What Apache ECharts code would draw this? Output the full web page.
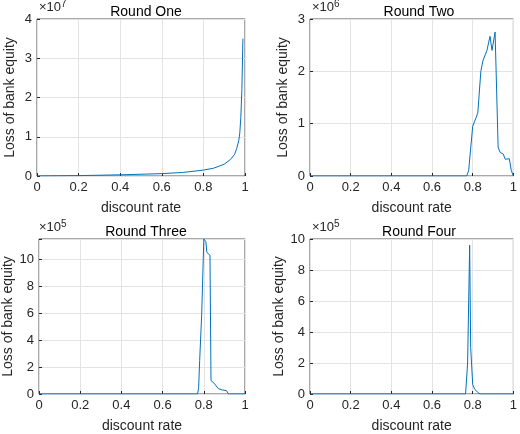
<!DOCTYPE html>
<html>
<head>
<meta charset="utf-8">
<script src="https://cdn.jsdelivr.net/npm/echarts@6/dist/echarts.min.js"></script>
<style>
  html, body { margin: 0; padding: 0; background: #fff; }
  #main { width: 520px; height: 434px; }
</style>
</head>
<body>
<div id="main"></div>
<script>
// values, y in units of the axis exponent
const titles = ['Round One', 'Round Two', 'Round Three', 'Round Four'];
const exponents = ['7', '6', '5', '5'];
const yMax = [4, 3, 11.5, 10];
const yStep = [1, 1, 2, 2];

const x1 = [0, 0.2, 0.4, 0.6, 0.7, 0.8, 0.85, 0.9, 0.93, 0.95, 0.96, 0.97, 0.975, 0.98, 0.985, 0.99];
const y1 = [0, 0.01, 0.03, 0.06, 0.09, 0.15, 0.2, 0.3, 0.42, 0.55, 0.7, 0.9, 1.1, 1.5, 2.2, 3.5];

const x2 = [0, 0.77, 0.78, 0.8, 0.81, 0.825, 0.84, 0.85, 0.87, 0.885, 0.895, 0.91, 0.925, 0.935, 0.95, 0.96, 0.98, 0.985, 0.99, 1];
const y2 = [0, 0, 0.1, 0.95, 1.05, 1.2, 2.0, 2.2, 2.4, 2.67, 2.4, 2.75, 0.55, 0.45, 0.42, 0.32, 0.33, 0.33, 0.1, 0];

const x3 = [0, 0.77, 0.775, 0.78, 0.79, 0.8, 0.81, 0.815, 0.83, 0.835, 0.85, 0.87, 0.89, 0.91, 0.92, 1];
const y3 = [0, 0, 0.5, 2.5, 6, 11.5, 11.3, 10.5, 10.3, 1.0, 0.8, 0.4, 0.3, 0.25, 0, 0];

const x4 = [0, 0.765, 0.775, 0.785, 0.79, 0.8, 0.81, 0.83, 0.84, 1];
const y4 = [0, 0, 2, 9.6, 3, 0.6, 0.3, 0.05, 0, 0];

const xs = [x1, x2, x3, x4];
const ys = [y1, y2, y3, y4];

const font = 'Liberation Sans, Arial, sans-serif';
const boxes = [
    { left: 37, top: 19 },
    { left: 310, top: 19 },
    { left: 37, top: 239 },
    { left: 310, top: 239 }
];

const chart = echarts.init(document.getElementById('main'));

const option = {
    animation: false,
    title: titles.map((t, i) => ({
        text: t,
        left: boxes[i].left + 104,
        top: boxes[i].top - 19,
        textAlign: 'center',
        textStyle: { fontFamily: font, fontSize: 14, fontWeight: 'normal', color: '#000' }
    })),
    grid: boxes.map(b => ({
        left: b.left, top: b.top, width: 208, height: 157,
        show: true, borderColor: '#262626', borderWidth: 0.8
    })),
    xAxis: boxes.map((b, i) => ({
        type: 'value', gridIndex: i, min: 0, max: 1, interval: 0.2,
        name: 'discount rate', nameLocation: 'middle', nameGap: 25,
        nameTextStyle: { fontFamily: font, fontSize: 14, color: '#262626' },
        axisLine: { show: false },
        axisTick: { inside: true, length: 3, lineStyle: { color: '#262626' } },
        axisLabel: { fontFamily: font, fontSize: 13, color: '#262626', margin: 5 },
        splitLine: { lineStyle: { color: '#e3e3e3' } }
    })),
    yAxis: boxes.map((b, i) => ({
        type: 'value', gridIndex: i, min: 0, max: yMax[i], interval: yStep[i],
        name: 'Loss of bank equity', nameLocation: 'middle', nameGap: i >= 2 ? 24 : 20,
        nameTextStyle: { fontFamily: font, fontSize: 14, color: '#262626' },
        axisLine: { show: false },
        axisTick: { inside: true, length: 3, lineStyle: { color: '#262626' } },
        axisLabel: {
            fontFamily: font, fontSize: 13, color: '#262626', margin: 5,
            formatter: v => (Math.abs(v % yStep[i]) < 1e-9 ? String(v) : '')
        },
        splitLine: { lineStyle: { color: '#e3e3e3' } }
    })),
    graphic: boxes.map((b, i) => ({
        type: 'text', left: b.left + 2, top: b.top - 20,
        style: {
            text: '{a|×10}{b|' + exponents[i] + '}',
            rich: {
                a: { fontFamily: font, fontSize: 13, fill: '#262626' },
                b: { fontFamily: font, fontSize: 10, fill: '#262626', verticalAlign: 'top', padding: [0, 0, 6, 0] }
            }
        }
    })),
    series: xs.map((x, i) => ({
        type: 'line', xAxisIndex: i, yAxisIndex: i,
        data: x.map((v, k) => [v, ys[i][k]]),
        showSymbol: false,
        lineStyle: { color: '#0072BD', width: 1 }
    }))
};

chart.setOption(option);
</script>
</body>
</html>
